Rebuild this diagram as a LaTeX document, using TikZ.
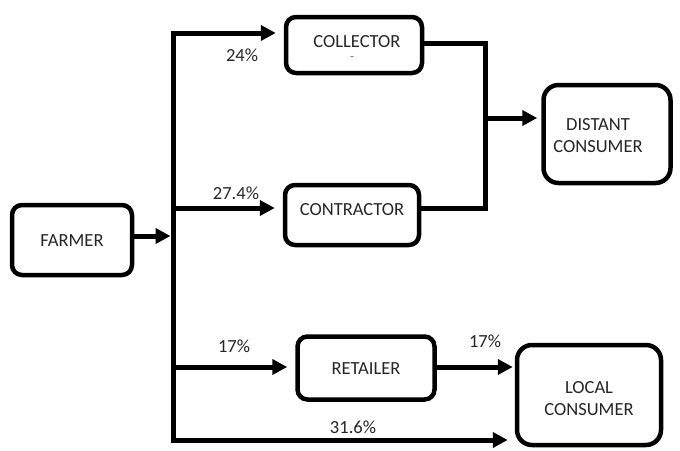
\documentclass[tikz,border=0pt]{standalone}
\usepackage{fontspec}
\setmainfont{Carlito}
\usetikzlibrary{arrows.meta,shadows,calc}
\begin{document}
\begin{tikzpicture}[x=1pt,y=-1pt,
  box/.style={draw=black, line width=4.5pt, rounded corners=10pt, fill=white,
    drop shadow={shadow xshift=1.5pt, shadow yshift=-1.5pt, opacity=0.3}},
  bigbox/.style={box, rounded corners=15pt},
  txt/.style={font=\fontsize{18.5}{22}\selectfont, text=black!85, align=center, inner sep=0pt},
  pct/.style={font=\fontsize{18.5}{22}\selectfont, text=black!85, inner sep=0pt},
  flow/.style={line width=5pt, line join=miter, -{Triangle[length=15pt,width=15pt]}},
  wire/.style={line width=5pt, line join=miter}]
\useasboundingbox (0,0) rectangle (680,450);

% boxes
\node[box, minimum width=120pt, minimum height=70pt] (farmer) at (72,240) {};
\node[box, minimum width=136pt, minimum height=56pt] (coll) at (354,45) {};
\node[box, minimum width=134pt, minimum height=60pt] (contr) at (352,215) {};
\node[bigbox, minimum width=127pt, minimum height=98pt] (dist) at (607,134) {};
\node[box, minimum width=137pt, minimum height=63pt] (ret) at (366,368) {};
\node[bigbox, minimum width=144pt, minimum height=100pt] (local) at (589,395) {};

% box texts
\node[txt] (tfarmer) at (72,241) {FARMER};
\node[txt] (tcoll) at (357,42) {COLLECTOR};
\node[font=\fontsize{9}{10}\selectfont, text=black!85, inner sep=0pt] (tdash) at (352,58) {–};
\node[txt] (tcontr) at (352,210) {CONTRACTOR};
\node[txt] (tdist) at (598,136) {DISTANT\\CONSUMER};
\node[txt] (tret) at (366,369) {RETAILER};
\node[txt] (tlocal) at (589,399) {LOCAL\\CONSUMER};

% bus coordinates
\coordinate (bt) at (173,33);
\coordinate (bb) at (173,440);
\coordinate (bj) at (173,236);
\coordinate (b2) at (173,208);
\coordinate (b3) at (173,367);
\coordinate (mt) at (485,43);
\coordinate (mb) at (485,208);
\coordinate (mm) at (485,118);

% connectors
\draw[flow] ($(farmer.east)+(0,-4)$) -- ($(bj)+(-2.5,0)$);
\draw[flow] (bb) -- (bt) -- ($(bt -| coll.west)+(-8,0)$);
\draw[flow] (bt) -- (bb) -- ($(bb -| local.west)+(-7,0)$);
\draw[flow] (b2) -- ($(b2 -| contr.west)+(-8,0)$);
\draw[flow] (b3) -- ($(b3 -| ret.west)+(-8,0)$);
\draw[flow] ($(ret.east)+(0,-1)$) -- ($(b3 -| local.west)+(-2,0)$);
\draw[wire] (coll.east |- mt) -- (mt) -- (mb) -- (contr.east |- mb);
\draw[flow] (mm) -- ($(mm -| dist.west)+(-4,0)$);

% percentages
\node[pct] (l24) at (242,55) {24\%};
\node[pct] (l274) at (236,193) {27.4\%};
\node[pct] (l17a) at (234,346) {17\%};
\node[pct] (l17b) at (485,341) {17\%};
\node[pct] (l316) at (353,427) {31.6\%};
\end{tikzpicture}
\end{document}
